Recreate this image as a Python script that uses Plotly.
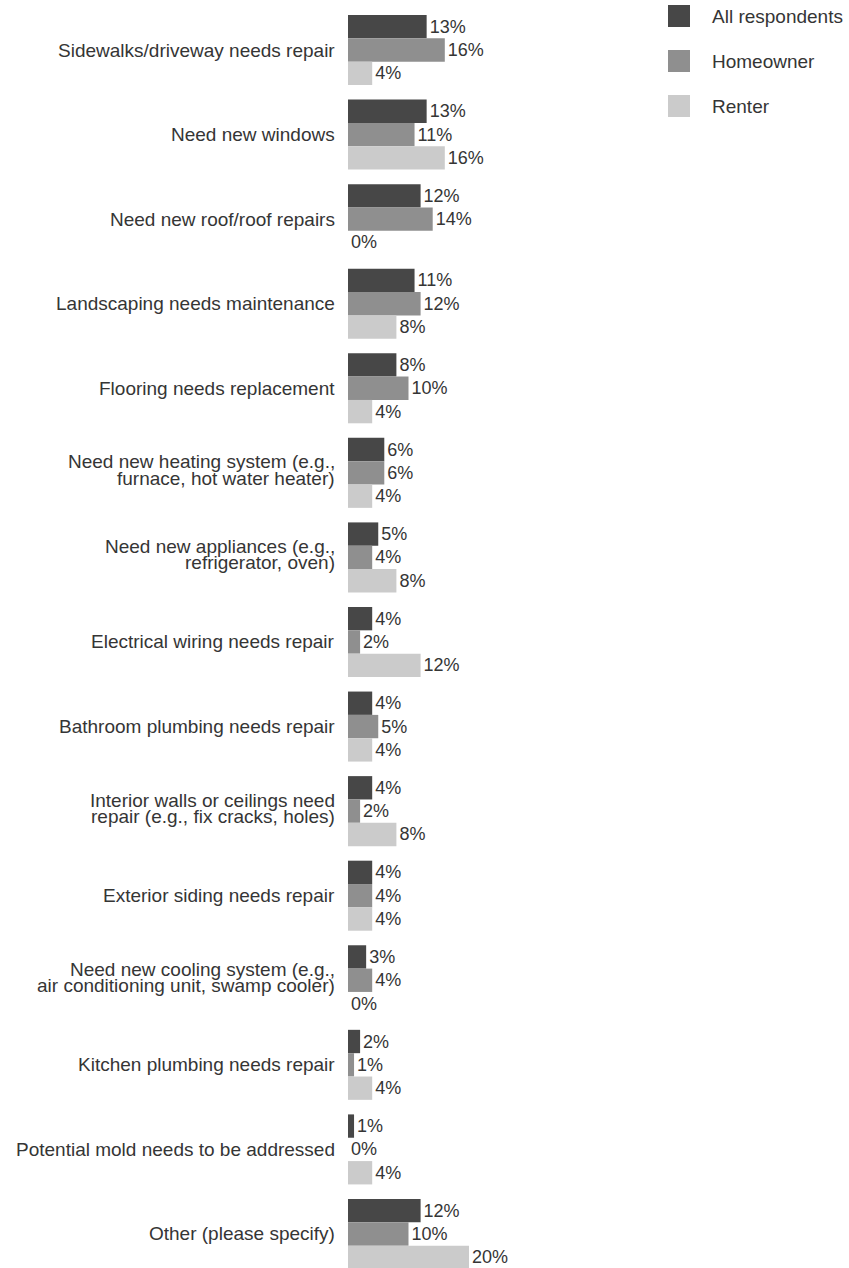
import plotly.graph_objects as go

categories = [
    "Sidewalks/driveway needs repair",
    "Need new windows",
    "Need new roof/roof repairs",
    "Landscaping needs maintenance",
    "Flooring needs replacement",
    "Need new heating system (e.g.,<br>furnace, hot water heater)",
    "Need new appliances (e.g.,<br>refrigerator, oven)",
    "Electrical wiring needs repair",
    "Bathroom plumbing needs repair",
    "Interior walls or ceilings need<br>repair (e.g., fix cracks, holes)",
    "Exterior siding needs repair",
    "Need new cooling system (e.g.,<br>air conditioning unit, swamp cooler)",
    "Kitchen plumbing needs repair",
    "Potential mold needs to be addressed",
    "Other (please specify)",
]
series_names = ["All respondents", "Homeowner", "Renter"]
all_respondents = [13, 13, 12, 11, 8, 6, 5, 4, 4, 4, 4, 3, 2, 1, 12]
homeowner = [16, 11, 14, 12, 10, 6, 4, 2, 5, 2, 4, 4, 1, 0, 10]
renter = [4, 16, 0, 8, 4, 4, 8, 12, 4, 8, 4, 0, 4, 4, 20]
series_values = [all_respondents, homeowner, renter]
colors = ["#474747", "#8f8f8f", "#cbcbcb"]

W, H = 849, 1268
L = 348
FONT = "Liberation Sans, Arial, sans-serif"
TXT = "#353535"

fig = go.Figure()
for name, vals, col in zip(series_names, series_values, colors):
    fig.add_trace(go.Bar(
        y=categories, x=vals, name=name, orientation="h",
        marker=dict(color=col, line=dict(width=0)),
        text=[f"{v}%" for v in vals], textposition="outside",
        textfont=dict(family=FONT, size=18, color=TXT),
        constraintext="none", cliponaxis=False, showlegend=False,
    ))

pitch = 84.57
c0 = 50
fig.update_layout(
    width=W, height=H,
    margin=dict(l=L, r=0, t=0, b=0),
    paper_bgcolor="white", plot_bgcolor="white",
    barmode="group", bargap=0.172, bargroupgap=0,
    font=dict(family=FONT, size=19, color=TXT),
    xaxis=dict(range=[0, (W - L) / 6.05], visible=False),
    yaxis=dict(
        type="category",
        range=[(H - c0) / pitch, -c0 / pitch],
        showgrid=False, zeroline=False, showline=False,
        showticklabels=False, ticks="",
    ),
)

# category labels (tight line spacing, like the original)
for cat in categories:
    lines = cat.split("<br>")
    shifts = [0] if len(lines) == 1 else [11, -5.5]
    for line, sh in zip(lines, shifts):
        fig.add_annotation(
            xref="paper", yref="y", x=0, y=cat, xshift=-12, yshift=sh,
            text=line, showarrow=False, xanchor="right", yanchor="middle",
            borderpad=0, font=dict(family=FONT, size=19, color=TXT),
        )

# custom legend
def px(x):
    return (x - L) / (W - L)

def py(y):
    return 1 - y / H

for i, (name, col) in enumerate(zip(series_names, colors)):
    top = 5 + 45 * i
    fig.add_shape(type="rect", xref="paper", yref="paper",
                  x0=px(668), x1=px(690), y0=py(top + 22), y1=py(top),
                  fillcolor=col, line=dict(width=0))
    fig.add_annotation(xref="paper", yref="paper", x=px(710), y=py(top + 11),
                       text=name, showarrow=False, xanchor="left", yanchor="middle",
                       font=dict(family=FONT, size=19, color=TXT))

fig.write_html("out.html", config={"displayModeBar": False},
               post_script="document.body.style.margin='0';")
